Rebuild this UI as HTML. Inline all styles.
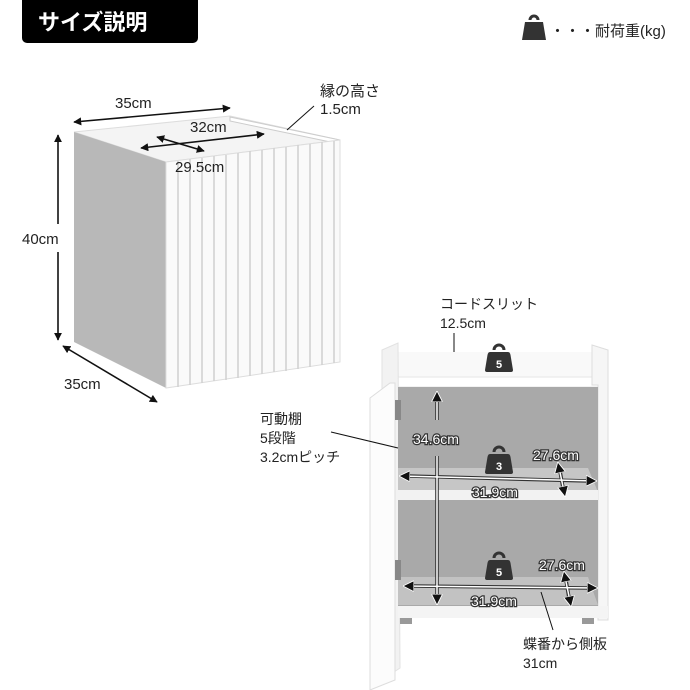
<!DOCTYPE html>
<html><head><meta charset="utf-8"><style>
html,body{margin:0;padding:0;background:#fff;}
svg{display:block;font-family:"Liberation Sans","Noto Sans CJK JP",sans-serif;}
</style></head><body>
<svg width="690" height="690" viewBox="0 0 690 690" xmlns="http://www.w3.org/2000/svg">
<defs>
<marker id="a" viewBox="0 0 10 10" refX="9" refY="5" markerWidth="5" markerHeight="5" orient="auto-start-reverse"><path d="M0,0L10,5L0,10z" fill="#111"/></marker>
<marker id="w" viewBox="0 0 10 10" refX="9" refY="5" markerUnits="userSpaceOnUse" markerWidth="11" markerHeight="11" orient="auto-start-reverse"><path d="M0,0L10,5L0,10z" fill="#111" stroke="#fff" stroke-width="0.8"/></marker>
<g id="wt"><path d="M-5,-9 a5,5 0 0 1 10,0" fill="none" stroke="#333" stroke-width="3"/><path d="M-9,-7 L9,-7 Q11,-7 11.5,-4 L14,11 Q14,13 12,13 L-12,13 Q-14,13 -14,11 L-11.5,-4 Q-11,-7 -9,-7z" fill="#333"/></g>
</defs>
<!-- header -->
<path d="M22,0 H198 V38 a5,5 0 0 1 -5,5 H27 a5,5 0 0 1 -5,-5z" fill="#000"/>
<text x="38" y="30" font-size="22" font-weight="bold" fill="#fff">サイズ説明</text>
<g transform="translate(534,28)"><path d="M-4,-8 a4,4 0 0 1 8,0" fill="none" stroke="#333" stroke-width="3"/><path d="M-9,-6 L9,-6 L12,12 L-12,12z" fill="#333"/></g>
<text x="550" y="36" font-size="15" fill="#222">・・・耐荷重(kg)</text>

<!-- left cabinet -->
<polygon points="74,132 230,116 340,140 166,162" fill="#f4f4f4" stroke="#ddd"/>
<polygon points="230,117 340,140 340,144 230,121" fill="#fff" stroke="#ccc"/>
<polygon points="74,132 166,162 166,388 74,342" fill="#b8b8b8"/>
<polygon points="166,162 340,140 340,362 166,388" fill="#fafafa" stroke="#ddd"/>
<g stroke="#d0d0d0" stroke-width="1.5">
<line x1="178" y1="161" x2="178" y2="387"/><line x1="190" y1="159" x2="190" y2="385"/><line x1="202" y1="158" x2="202" y2="383"/><line x1="214" y1="156" x2="214" y2="381"/><line x1="226" y1="155" x2="226" y2="380"/><line x1="238" y1="153" x2="238" y2="378"/><line x1="250" y1="151" x2="250" y2="376"/><line x1="262" y1="150" x2="262" y2="374"/><line x1="274" y1="148" x2="274" y2="372"/><line x1="286" y1="147" x2="286" y2="371"/><line x1="298" y1="145" x2="298" y2="369"/><line x1="310" y1="144" x2="310" y2="367"/><line x1="322" y1="142" x2="322" y2="365"/><line x1="334" y1="141" x2="334" y2="363"/>
</g>
<g stroke="#111" stroke-width="1.6" fill="none">
<line x1="74" y1="122" x2="230" y2="108" marker-start="url(#a)" marker-end="url(#a)"/>
<line x1="141" y1="148" x2="264" y2="134" marker-start="url(#a)" marker-end="url(#a)"/>
<line x1="157" y1="137" x2="204" y2="151" marker-start="url(#a)" marker-end="url(#a)"/>
<line x1="58" y1="135" x2="58" y2="224" marker-start="url(#a)"/>
<line x1="58" y1="252" x2="58" y2="340" marker-end="url(#a)"/>
<line x1="63" y1="346" x2="157" y2="402" marker-start="url(#a)" marker-end="url(#a)"/>
<line x1="314" y1="106" x2="287" y2="130" stroke-width="1"/>
</g>
<g font-size="15" fill="#222">
<text x="115" y="108">35cm</text>
<text x="190" y="132">32cm</text>
<text x="175" y="172">29.5cm</text>
<text x="22" y="244">40cm</text>
<text x="64" y="389">35cm</text>
<text x="320" y="96">縁の高さ</text>
<text x="320" y="114">1.5cm</text>
</g>

<!-- right cabinet -->
<rect x="396" y="352" width="206" height="26" fill="#f9f9f9"/>
<rect x="396" y="377" width="206" height="10" fill="#fff" stroke="#e6e6e6"/>
<polygon points="382,350 398,343 400,668 382,680" fill="#f2f2f2" stroke="#e2e2e2"/>
<polygon points="370,398 390,383 395,383 395,680 370,690" fill="#fcfcfc" stroke="#ddd"/>
<polygon points="592,345 608,350 608,620 598,620 598,385 592,385" fill="#f6f6f6" stroke="#ddd"/>
<rect x="398" y="387" width="200" height="230" fill="#a9a9a9"/>
<polygon points="398,468 588,468 598,492 398,492" fill="#c6c6c6"/>
<rect x="398" y="490" width="200" height="10" fill="#f2f2f2"/>
<polygon points="398,577 588,577 598,605 398,605" fill="#c2c2c2"/>
<rect x="398" y="606" width="210" height="12" fill="#f4f4f4"/>
<rect x="400" y="618" width="12" height="6" fill="#999"/><rect x="582" y="618" width="12" height="6" fill="#999"/>
<rect x="395" y="400" width="6" height="20" fill="#888"/><rect x="395" y="560" width="6" height="20" fill="#888"/>
<g fill="none">
<g stroke="#333" stroke-width="3.6">
<line x1="437" y1="398" x2="437" y2="420"/>
<line x1="437" y1="456" x2="437" y2="596"/>
<line x1="408" y1="476" x2="588" y2="481"/>
<line x1="560" y1="471" x2="563" y2="488"/>
<line x1="413" y1="586" x2="588" y2="588"/>
<line x1="566" y1="580" x2="569" y2="598"/>
</g>
<g stroke="#fff" stroke-width="1.5">
<line x1="437" y1="392" x2="437" y2="420" marker-start="url(#w)"/>
<line x1="437" y1="456" x2="437" y2="604" marker-end="url(#w)"/>
<line x1="400" y1="476" x2="596" y2="481" marker-start="url(#w)" marker-end="url(#w)"/>
<line x1="558" y1="463" x2="565" y2="496" marker-start="url(#w)" marker-end="url(#w)"/>
<line x1="404" y1="586" x2="597" y2="588" marker-start="url(#w)" marker-end="url(#w)"/>
<line x1="564" y1="572" x2="571" y2="606" marker-start="url(#w)" marker-end="url(#w)"/>
</g>
<g stroke="#111" stroke-width="1">
<line x1="454" y1="333" x2="454" y2="352"/>
<line x1="331" y1="432" x2="398" y2="448"/>
<line x1="541" y1="592" x2="553" y2="630"/>
</g>
</g>
<use href="#wt" transform="translate(499,359)"/><text x="499" y="368" font-size="11" fill="#fff" text-anchor="middle" font-weight="bold">5</text>
<use href="#wt" transform="translate(499,461)"/><text x="499" y="470" font-size="11" fill="#fff" text-anchor="middle" font-weight="bold">3</text>
<use href="#wt" transform="translate(499,567)"/><text x="499" y="576" font-size="11" fill="#fff" text-anchor="middle" font-weight="bold">5</text>
<g font-size="14" fill="#fff" stroke="#333" stroke-width="2.5" paint-order="stroke">
<text x="413" y="444">34.6cm</text>
<text x="533" y="460">27.6cm</text>
<text x="472" y="497">31.9cm</text>
<text x="539" y="570">27.6cm</text>
<text x="471" y="606">31.9cm</text>
</g>
<g font-size="14" fill="#222">
<text x="440" y="309">コードスリット</text>
<text x="440" y="328">12.5cm</text>
<text x="260" y="424">可動棚</text>
<text x="260" y="443">5段階</text>
<text x="260" y="462">3.2cmピッチ</text>
<text x="523" y="649">蝶番から側板</text>
<text x="523" y="668">31cm</text>
</g>
</svg>
</body></html>
